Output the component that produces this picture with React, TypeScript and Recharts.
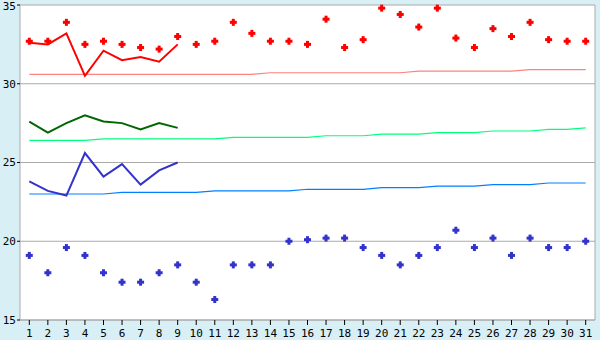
import { LineChart, Line, XAxis, YAxis, CartesianGrid } from 'recharts';

const days = Array.from({ length: 31 }, (_, i) => String(i + 1));

const recordMax = [32.7, 32.7, 33.9, 32.5, 32.7, 32.5, 32.3, 32.2, 33.0, 32.5, 32.7, 33.9, 33.2, 32.7, 32.7, 32.5, 34.1, 32.3, 32.8, 34.8, 34.4, 33.6, 34.8, 32.9, 32.3, 33.5, 33.0, 33.9, 32.8, 32.7, 32.7];
const obsMax = [32.6, 32.5, 33.2, 30.5, 32.1, 31.5, 31.7, 31.4, 32.5];
const normMax = [30.6, 30.6, 30.6, 30.6, 30.6, 30.6, 30.6, 30.6, 30.6, 30.6, 30.6, 30.6, 30.6, 30.7, 30.7, 30.7, 30.7, 30.7, 30.7, 30.7, 30.7, 30.8, 30.8, 30.8, 30.8, 30.8, 30.8, 30.9, 30.9, 30.9, 30.9];
const obsAvg = [27.6, 26.9, 27.5, 28.0, 27.6, 27.5, 27.1, 27.5, 27.2];
const normAvg = [26.4, 26.4, 26.4, 26.4, 26.5, 26.5, 26.5, 26.5, 26.5, 26.5, 26.5, 26.6, 26.6, 26.6, 26.6, 26.6, 26.7, 26.7, 26.7, 26.8, 26.8, 26.8, 26.9, 26.9, 26.9, 27.0, 27.0, 27.0, 27.1, 27.1, 27.2];
const obsMin = [23.8, 23.2, 22.9, 25.6, 24.1, 24.9, 23.6, 24.5, 25.0];
const normMin = [23.0, 23.0, 23.0, 23.0, 23.0, 23.1, 23.1, 23.1, 23.1, 23.1, 23.2, 23.2, 23.2, 23.2, 23.2, 23.3, 23.3, 23.3, 23.3, 23.4, 23.4, 23.4, 23.5, 23.5, 23.5, 23.6, 23.6, 23.6, 23.7, 23.7, 23.7];
const recordMin = [19.1, 18.0, 19.6, 19.1, 18.0, 17.4, 17.4, 18.0, 18.5, 17.4, 16.3, 18.5, 18.5, 18.5, 20.0, 20.1, 20.2, 20.2, 19.6, 19.1, 18.5, 19.1, 19.6, 20.7, 19.6, 20.2, 19.1, 20.2, 19.6, 19.6, 20.0];
const yTicks = [15, 20, 25, 30, 35];

const data = days.map((d, i) => ({
  day: d,
  recordMax: recordMax[i],
  obsMax: obsMax[i] ?? null,
  normMax: normMax[i],
  obsAvg: obsAvg[i] ?? null,
  normAvg: normAvg[i],
  obsMin: obsMin[i] ?? null,
  normMin: normMin[i],
  recordMin: recordMin[i],
}));

const font = { fill: '#000', fontSize: 11, fontFamily: 'DejaVu Sans Mono' };

const plus = (color: string) => (props: any) => {
  const { cx, cy, index } = props;
  if (cx == null || cy == null) return <g key={index} />;
  return (
    <g key={index}>
      <rect x={cx - 3.5} y={cy - 1.5} width={7} height={3} fill={color} />
      <rect x={cx - 1.5} y={cy - 3.5} width={3} height={7} fill={color} />
    </g>
  );
};

export default function App() {
  return (
    <div style={{ position: 'absolute', left: 0, top: 0, width: 600, height: 340, background: '#d9eff6' }}>
      <LineChart width={600} height={340} data={data} margin={{ top: 5, right: 5, bottom: 0, left: 0 }}>
        <CartesianGrid fill="#fff" stroke="#aaa" vertical verticalPoints={[595]} />
        <XAxis dataKey="day" interval={0} height={20} padding={{ left: 9.3, right: 9.3 }}
          axisLine={{ stroke: '#aaa' }} tickLine={{ stroke: '#000' }} tickSize={5} tickMargin={4} tick={font} />
        <YAxis domain={[15, 35]} ticks={yTicks} width={20} axisLine={{ stroke: '#aaa' }}
          tickLine={{ stroke: '#000' }} tickSize={3} tickMargin={1} tick={font} />
        <Line dataKey="normMax" stroke="#ff8080" strokeWidth={1.2} dot={false} isAnimationActive={false} />
        <Line dataKey="normAvg" stroke="#00ff80" strokeWidth={1.2} dot={false} isAnimationActive={false} />
        <Line dataKey="normMin" stroke="#0080ff" strokeWidth={1.2} dot={false} isAnimationActive={false} />
        <Line dataKey="obsMax" stroke="#ff0000" strokeWidth={2} dot={false} isAnimationActive={false} />
        <Line dataKey="obsAvg" stroke="#006600" strokeWidth={2} dot={false} isAnimationActive={false} />
        <Line dataKey="obsMin" stroke="#3333cc" strokeWidth={2} dot={false} isAnimationActive={false} />
        <Line dataKey="recordMax" stroke="none" dot={plus('#ff0000')} activeDot={false} isAnimationActive={false} />
        <Line dataKey="recordMin" stroke="none" dot={plus('#3333cc')} activeDot={false} isAnimationActive={false} />
      </LineChart>
    </div>
  );
}
